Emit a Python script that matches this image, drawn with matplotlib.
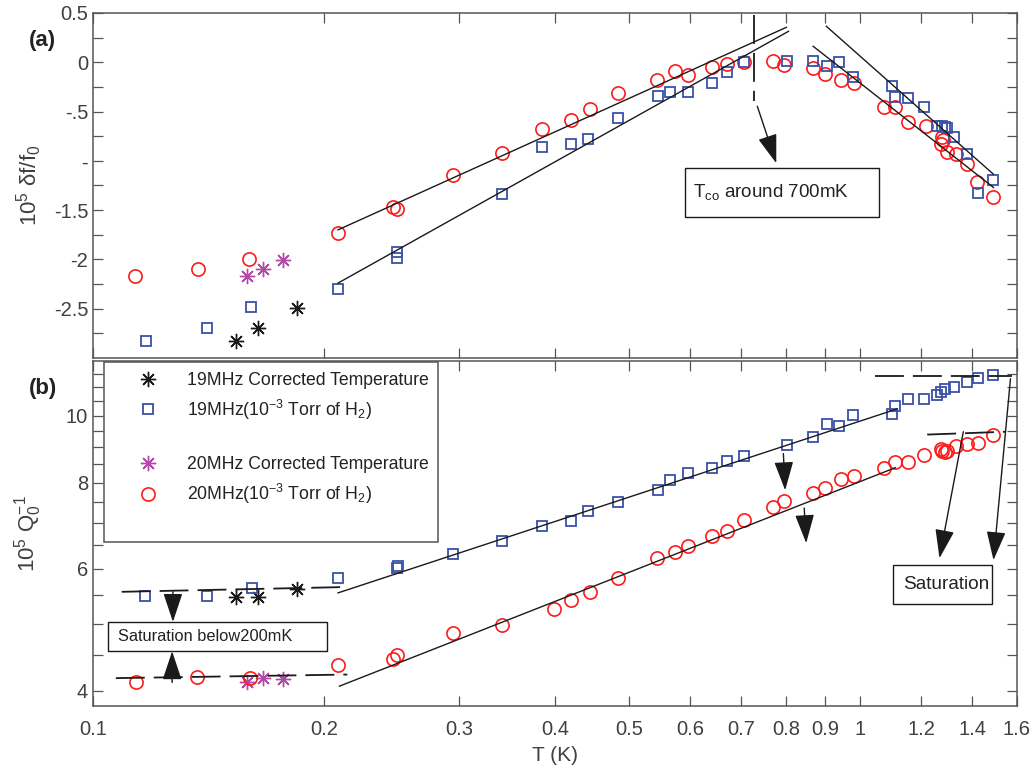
import numpy as np
import matplotlib
matplotlib.use('Agg')
import matplotlib.pyplot as plt
from matplotlib.patches import Rectangle
from matplotlib.lines import Line2D
from matplotlib.ticker import FixedLocator, NullFormatter, FixedFormatter

plt.rcParams['font.family'] = ['Liberation Sans', 'DejaVu Sans']
plt.rcParams['mathtext.default'] = 'regular'

# ---- data ----
# panel (a): 10^5 df/f0
red_a_T = [0.1134, 0.137, 0.1596, 0.2086, 0.246, 0.249, 0.2946, 0.3414, 0.3849, 0.420,
           0.4446, 0.4835, 0.5435, 0.574, 0.597, 0.641, 0.671, 0.706, 0.770, 0.796,
           0.868, 0.898, 0.944, 0.982, 1.075, 1.111, 1.152, 1.216, 1.279, 1.28,
           1.275, 1.298, 1.334, 1.379, 1.42, 1.491]
red_a_y = [-2.17, -2.10, -2.00, -1.73, -1.47, -1.49, -1.146, -0.92, -0.68, -0.59,
           -0.47, -0.31, -0.18, -0.09, -0.13, -0.05, -0.02, 0.0, 0.01, -0.03,
           -0.06, -0.12, -0.18, -0.21, -0.45, -0.45, -0.61, -0.65, -0.76, -0.79,
           -0.83, -0.91, -0.93, -1.03, -1.21, -1.37]
blue_a_T = [0.1172, 0.1408, 0.1607, 0.2086, 0.249, 0.249, 0.3414, 0.385, 0.42, 0.4418,
            0.4835, 0.545, 0.5654, 0.597, 0.641, 0.671, 0.706, 0.803, 0.868, 0.905,
            0.939, 0.979, 1.10, 1.111, 1.152, 1.212, 1.26, 1.279, 1.29, 1.298,
            1.326, 1.379, 1.424, 1.491]
blue_a_y = [-2.83, -2.70, -2.48, -2.30, -1.92, -1.99, -1.34, -0.86, -0.83, -0.78,
            -0.57, -0.34, -0.30, -0.30, -0.21, -0.10, 0.0, 0.01, 0.01, -0.04,
            0.0, -0.15, -0.24, -0.35, -0.36, -0.45, -0.65, -0.65, -0.66, -0.67,
            -0.76, -0.93, -1.33, -1.19]

# panel (b): 10^5 Q0^-1
blue_b_T = [0.1169, 0.1408, 0.1612, 0.2086, 0.249, 0.2495, 0.2946, 0.3414, 0.385, 0.42,
            0.4418, 0.4835, 0.545, 0.5654, 0.597, 0.641, 0.671, 0.706, 0.803, 0.868,
            0.905, 0.939, 0.979, 1.10, 1.111, 1.152, 1.212, 1.26, 1.275, 1.29,
            1.326, 1.379, 1.424, 1.491]
blue_b_q = [5.49, 5.49, 5.63, 5.82, 6.02, 6.05, 6.31, 6.58, 6.92, 7.04,
            7.27, 7.49, 7.80, 8.06, 8.25, 8.39, 8.61, 8.73, 9.08, 9.30,
            9.74, 9.67, 10.03, 10.07, 10.34, 10.58, 10.58, 10.72, 10.83, 10.94,
            11.01, 11.19, 11.34, 11.45]
red_b_T = [0.1138, 0.1366, 0.1602, 0.2086, 0.246, 0.249, 0.2946, 0.3414, 0.399, 0.42,
           0.4446, 0.4835, 0.5435, 0.574, 0.597, 0.641, 0.671, 0.706, 0.770, 0.796,
           0.868, 0.898, 0.944, 0.982, 1.075, 1.111, 1.152, 1.212, 1.275, 1.279,
           1.29, 1.298, 1.334, 1.379, 1.424, 1.491]
red_b_q = [4.12, 4.19, 4.17, 4.35, 4.45, 4.50, 4.84, 4.98, 5.25, 5.41,
           5.56, 5.82, 6.22, 6.35, 6.48, 6.69, 6.82, 7.06, 7.37, 7.52,
           7.74, 7.85, 8.11, 8.19, 8.39, 8.56, 8.58, 8.78, 8.96, 8.90,
           8.87, 8.90, 9.05, 9.11, 9.14, 9.39]

# corrected temperature points
black_T = [0.1536, 0.164, 0.1845]
black_a = [-2.83, -2.70, -2.49]
black_b = [5.47, 5.46, 5.61]
mag_T = [0.1588, 0.1666, 0.177]
mag_a = [-2.17, -2.10, -2.01]
mag_b = [4.11, 4.17, 4.16]

# fit lines (a)
fit_a_red_T, fit_a_red_y = [0.2086, 0.801], [-1.70, 0.355]
fit_a_blue_T, fit_a_blue_y = [0.2086, 0.806], [-2.24, 0.314]
fit_a_hi1_T, fit_a_hi1_y = [0.903, 1.491], [0.365, -1.136]
fit_a_hi2_T, fit_a_hi2_y = [0.868, 1.491], [0.162, -1.27]
tco_T, tco_y = [0.727, 0.727], [0.48, -0.39]

# fit lines (b)
fit_b_blue_T, fit_b_blue_q = [0.2086, 1.117], [5.54, 10.23]
fit_b_red_T, fit_b_red_q = [0.2095, 1.111], [4.06, 8.41]
sat_lo19_T, sat_lo19_q = [0.109, 0.2148], [5.56, 5.65]
sat_lo20_T, sat_lo20_q = [0.1071, 0.2145], [4.17, 4.22]
sat_hi19_T, sat_hi19_q = [1.046, 1.575], [11.4, 11.4]
sat_hi20_T, sat_hi20_q = [1.222, 1.547], [9.39, 9.48]

xticks = [0.1, 0.2, 0.3, 0.4, 0.5, 0.6, 0.7, 0.8, 0.9, 1, 1.2, 1.4, 1.6]
xticklabels = ['0.1', '0.2', '0.3', '0.4', '0.5', '0.6', '0.7', '0.8', '0.9', '1', '1.2', '1.4', '1.6']
a_ticks = [0.5, 0, -0.5, -1, -1.5, -2, -2.5]
a_ticklabels = ['0.5', '0', '-.5', '-', '-1.5', '-2', '-2.5']
b_ticks = [4, 6, 8, 10]
b_ticklabels = ['4', '6', '8', '10']

RED = '#ff1a1a'
BLUE = '#3a52a6'
MAG = '#b04aa4'
BLK = '#1a1a1a'
GRAY = '#404040'
dash = (0, (16, 5))

W, H = 1032, 769
fig = plt.figure(figsize=(W / 100, H / 100), dpi=100)
ax1 = fig.add_axes([93 / W, 1 - 358 / H, 924 / W, 345 / H])
ax2 = fig.add_axes([93 / W, 1 - 706 / H, 924 / W, 345 / H])

for ax in (ax1, ax2):
    ax.set_xscale('log')
    ax.set_xlim(0.1, 1.6)
    ax.xaxis.set_major_locator(FixedLocator(xticks))
    ax.xaxis.set_minor_locator(FixedLocator([]))
    ax.tick_params(which='both', direction='in', top=True, right=True,
                   length=7, width=0.9, colors='#555555', labelcolor=GRAY, labelsize=14.5)
    ax.tick_params(axis='x', pad=10)
    for s in ax.spines.values():
        s.set_color('#555555')
        s.set_linewidth(1.1)

ax1.xaxis.set_major_formatter(NullFormatter())
ax2.xaxis.set_major_formatter(FixedFormatter(xticklabels))

# ---- panel (a) ----
mk = dict(linestyle='none', markerfacecolor='none')
star = dict(marker=(8, 2, 0), markersize=11, linestyle='none', markeredgewidth=1.0)
ax1.plot(red_a_T, red_a_y, marker='o', markersize=9.5, markeredgecolor=RED, markeredgewidth=1.2, **mk)
ax1.plot(blue_a_T, blue_a_y, marker='s', markersize=7.5, markeredgecolor=BLUE, markeredgewidth=1.3, **mk)
ax1.plot(black_T, black_a, color=BLK, **star)
ax1.plot(mag_T, mag_a, color=MAG, **star)
for tx, ty in [(fit_a_red_T, fit_a_red_y), (fit_a_blue_T, fit_a_blue_y),
               (fit_a_hi1_T, fit_a_hi1_y), (fit_a_hi2_T, fit_a_hi2_y)]:
    ax1.plot(tx, ty, color=BLK, lw=1.0)
ax1.plot(tco_T, tco_y, color=BLK, lw=1.3, linestyle=dash)

ax1.set_ylim(-3, 0.5)
ax1.yaxis.set_major_locator(FixedLocator(a_ticks))
ax1.yaxis.set_major_formatter(FixedFormatter(a_ticklabels))
ax1.yaxis.set_minor_locator(FixedLocator(np.arange(-2.75, 0.5, 0.5)))
ax1.set_ylabel(r'10$^5$ $\delta$f/f$_0$', fontsize=16, color=GRAY)
ax1.yaxis.set_label_coords(-0.053, 0.5)

arrow = dict(arrowstyle='-|>,head_length=0.9,head_width=0.3', color=BLK, lw=1.0,
             mutation_scale=20, shrinkA=0, shrinkB=0)
ax1.annotate('', xy=(0.777, -1.024), xytext=(0.734, -0.446), arrowprops=arrow)
ax1.add_patch(Rectangle((0.591, -1.572), 1.056 - 0.591, 0.497, fill=False,
                        edgecolor=BLK, lw=1.0))
ax1.text(0.605, -1.32, r'T$_{co}$ around 700mK', fontsize=13.5, color='#222222', va='center')
ax1.text(-0.069, 0.92, '(a)', transform=ax1.transAxes, fontsize=16, fontweight='bold',
         color='#222222', va='center')

# ---- panel (b) ----
ax2.set_yscale('log')
h1, = ax2.plot(black_T, black_b, color=BLK, **star)
h2, = ax2.plot(blue_b_T, blue_b_q, marker='s', markersize=7.5, markeredgecolor=BLUE, markeredgewidth=1.3, **mk)
h3, = ax2.plot(mag_T, mag_b, color=MAG, **star)
h4, = ax2.plot(red_b_T, red_b_q, marker='o', markersize=9.5, markeredgecolor=RED, markeredgewidth=1.2, **mk)
for tx, ty in [(fit_b_blue_T, fit_b_blue_q), (fit_b_red_T, fit_b_red_q)]:
    ax2.plot(tx, ty, color=BLK, lw=1.0)
for tx, ty in [(sat_lo19_T, sat_lo19_q), (sat_lo20_T, sat_lo20_q),
               (sat_hi19_T, sat_hi19_q), (sat_hi20_T, sat_hi20_q)]:
    ax2.plot(tx, ty, color=BLK, lw=1.3, linestyle=dash)

ax2.set_ylim(3.8, 12)
ax2.yaxis.set_major_locator(FixedLocator(b_ticks))
ax2.yaxis.set_major_formatter(FixedFormatter(b_ticklabels))
ax2.yaxis.set_minor_locator(FixedLocator([4.5, 5, 5.5, 6.5, 7, 7.5, 8.5, 9, 9.5, 10.5, 11, 11.5]))
ax2.yaxis.set_minor_formatter(NullFormatter())
ax2.set_ylabel(r'10$^5$ Q$_0^{-1}$', fontsize=16, color=GRAY)
ax2.yaxis.set_label_coords(-0.053, 0.5)
ax2.set_xlabel('T (K)', fontsize=15, color=GRAY, labelpad=5)

blank = Line2D([], [], linestyle='none')
leg = ax2.legend([h1, h2, blank, h3, h4, blank],
                 ['19MHz Corrected Temperature', r'19MHz(10$^{-3}$ Torr of H$_2$)', ' ',
                  '20MHz Corrected Temperature', r'20MHz(10$^{-3}$ Torr of H$_2$)', ' '],
                 loc='upper left', bbox_to_anchor=(0.012, 0.997), borderaxespad=0,
                 fontsize=12.7, handlelength=3.9, handletextpad=0.25, borderpad=0.55,
                 labelspacing=0.5, fancybox=False, framealpha=1, edgecolor='#555555')
leg.get_frame().set_linewidth(1.1)
for t in leg.get_texts():
    t.set_color('#222222')

ax2.annotate('', xy=(0.1271, 5.03), xytext=(0.1271, 5.56), arrowprops=arrow)
ax2.annotate('', xy=(0.1268, 4.56), xytext=(0.1268, 4.11), arrowprops=arrow)
ax2.annotate('', xy=(0.798, 7.80), xytext=(0.7937, 8.814), arrowprops=arrow)
ax2.annotate('', xy=(0.850, 6.54), xytext=(0.845, 7.35), arrowprops=arrow)
ax2.annotate('', xy=(1.268, 6.22), xytext=(1.362, 9.48), arrowprops=arrow)
ax2.annotate('', xy=(1.491, 6.18), xytext=(1.569, 11.31), arrowprops=arrow)

ax2.add_patch(Rectangle((0.1046, 4.57), 0.2019 - 0.1046, 5.03 - 4.57, fill=False,
                        edgecolor=BLK, lw=1.0))
ax2.text(0.1078, 4.79, 'Saturation below200mK', fontsize=11.8, color='#222222', va='center')
ax2.add_patch(Rectangle((1.104, 5.34), 1.486 - 1.104, 6.08 - 5.34, fill=False,
                        edgecolor=BLK, lw=1.0))
ax2.text(1.138, 5.69, 'Saturation', fontsize=13.7, color='#222222', va='center')
ax2.text(-0.069, 0.92, '(b)', transform=ax2.transAxes, fontsize=16, fontweight='bold',
         color='#222222', va='center')

fig.savefig('out.png', dpi=100)
